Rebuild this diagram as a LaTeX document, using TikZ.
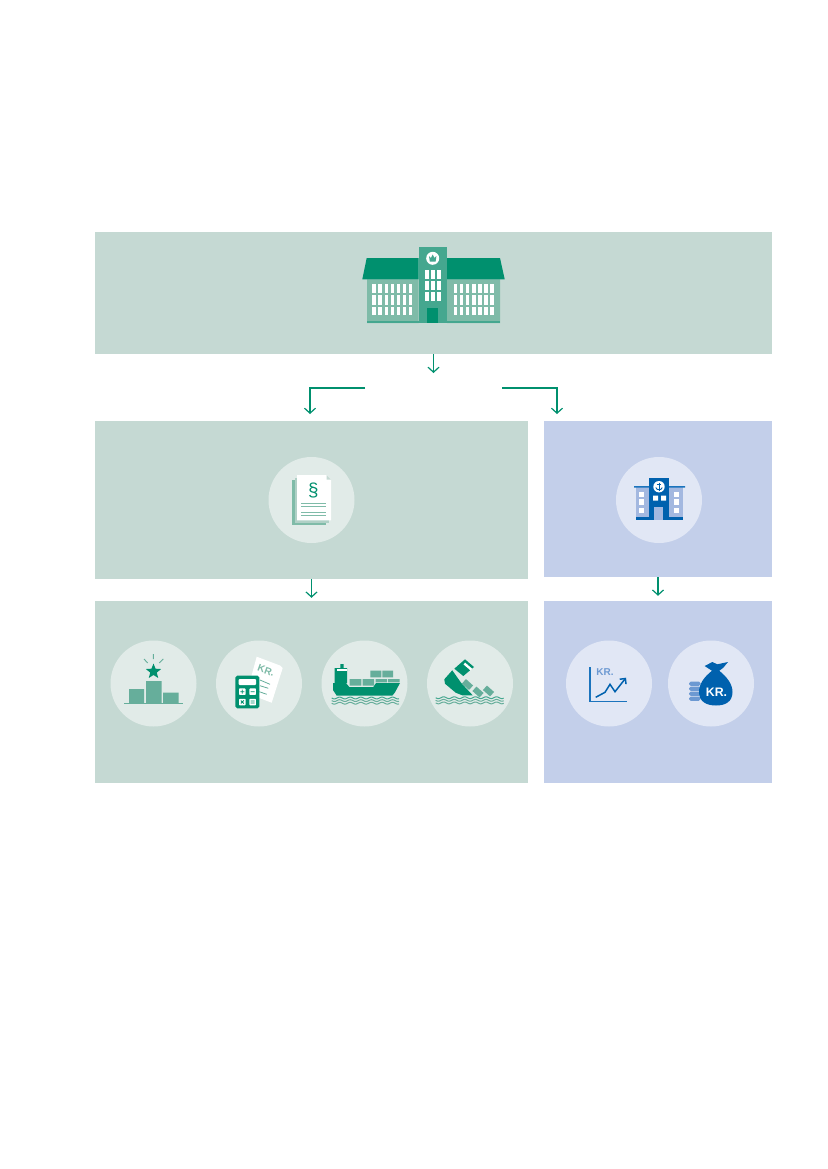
\documentclass[tikz,border=0pt]{standalone}
\usepackage{fontspec}
\setmainfont{Liberation Sans}
\usetikzlibrary{arrows.meta,shapes.geometric}
\definecolor{boxgreen}{HTML}{C5D9D3}
\definecolor{boxblue}{HTML}{C3CFEA}
\definecolor{discgreen}{HTML}{E1EBE8}
\definecolor{discblue}{HTML}{E1E7F5}
\definecolor{deepgreen}{HTML}{00906E}
\definecolor{midgreen}{HTML}{45A78F}
\definecolor{softgreen}{HTML}{66AE9B}
\definecolor{palegreen}{HTML}{7FBBA8}
\definecolor{deepblue}{HTML}{0061AE}
\definecolor{midblue}{HTML}{1B74BD}
\definecolor{softblue}{HTML}{6C99D2}
\definecolor{paleblue}{HTML}{A3B8E0}
\def\px{0.03cm}
\newcommand{\waterlines}[3]{%
  \draw[midgreen,line width=1*\px] plot[domain=#1:#2,samples=70,smooth] (\x,{#3+0.9*sin(34*(\x-#1))});
  \draw[softgreen,line width=1*\px] plot[domain=#1:#2,samples=70,smooth] (\x,{#3+2.6+0.9*sin(34*(\x-#1))});
  \draw[softgreen,line width=1*\px] plot[domain=#1:#2,samples=70,smooth] (\x,{#3+5.2+0.9*sin(34*(\x-#1))});
}
\begin{document}
\begin{tikzpicture}[x=\px,y=-\px,
    panel/.style={
      % The shape:
      rectangle,inner sep=0pt,minimum width=#1*\px,
      % The rest
      fill=boxgreen},
    panelblue/.style={panel=#1,fill=boxblue},
    disc/.style={circle,inner sep=0pt,minimum size=86*\px,fill=discgreen},
    discb/.style={disc,fill=discblue},
    flowarrow/.style={deepgreen,line width=1.2*\px,-{Straight Barb[length=5*\px,width=11*\px]}},
    crate/.style={rectangle,inner sep=0pt,fill=softgreen,minimum width=9.6*\px,minimum height=6*\px},
    keycap/.style={rectangle,rounded corners=0.6pt,inner sep=0pt,fill=white,minimum size=6.5*\px}]
  \useasboundingbox (0,0) rectangle (827,1169);

  % panels
  \node [panel=677,minimum height=122*\px] (parliament) at (433.5,293) {};
  \node [panel=433,minimum height=158*\px] (law) at (311.5,500) {};
  \node [panelblue=228,minimum height=156*\px] (bank) at (658,499) {};
  \node [panel=433,minimum height=182*\px] (duties) at (311.5,692) {};
  \node [panelblue=228,minimum height=182*\px] (funds) at (658,692) {};

  % connectors
  \coordinate (split) at (433.5,373);
  \coordinate (splitleft) at (365,388);
  \coordinate (splitright) at (502,388);
  \coordinate (lawin) at (310,414);
  \coordinate (bankin) at (557,414);
  \draw [flowarrow] (parliament.south) -- (split);
  \draw [flowarrow] (splitleft) -| (lawin);
  \draw [flowarrow] (splitright) -| (bankin);
  \draw [flowarrow,shorten >=3*\px] (law.south) -- (duties.north);
  \draw [flowarrow,shorten >=5*\px] (bank.south) -- (funds.north);

  % parliament building
  \fill [palegreen] (367,279.3) rectangle (418.7,323) (447,279.3) rectangle (500,323);
  \fill [midgreen] (367,320.7) rectangle (500,323);
  \fill [deepgreen] (362.3,279.3) -- (366.7,258) -- (418.7,258) -- (418.7,279.3) -- cycle;
  \fill [deepgreen] (447,258) -- (500,258) -- (504.7,279.3) -- (447,279.3) -- cycle;
  \fill [midgreen] (418.7,246.7) rectangle (447,323);
  \foreach \wx in {372.3,453.7}
    \foreach \i in {0,...,6}
      \foreach \wy/\wh in {284/9.3,295.3/9.4,306.7/8.6}
        \fill [white] ({\wx+6.1*\i},\wy) rectangle +(3.5,\wh);
  \foreach \i in {0,1,2}
    \foreach \wy in {270,281,292}
      \fill [white] ({425+6.05*\i},\wy) rectangle +(3.5,9);
  \fill [deepgreen] (427,307.7) rectangle (438.3,323);
  \fill [white] (432.7,258.3) circle [radius=6.5];
  \fill [midgreen] (429,256) -- (431,258) -- (432.7,254.5) -- (434.4,258) -- (436.4,256) -- (435.6,261.5) -- (429.8,261.5) -- cycle;

  % discs
  \node [disc] (lawdisc) at (311.5,500) {};
  \node [discb] (bankdisc) at (659,500) {};
  \node [disc] (rankdisc) at (153.5,683.5) {};
  \node [disc] (calcdisc) at (259,683.5) {};
  \node [disc] (shipdisc) at (364.5,683.5) {};
  \node [disc] (wreckdisc) at (470,683.5) {};
  \node [discb] (chartdisc) at (609,683.5) {};
  \node [discb] (bagdisc) at (711,683.5) {};

  % law document
  \fill [palegreen] (292,480) rectangle (326,525);
  \fill [boxgreen!70!palegreen] (294.5,477.5) rectangle (329,522.5);
  \fill [white] (297,475) -- (326.5,475) -- (331,479.5) -- (331,520.3) -- (297,520.3) -- cycle;
  \fill [boxgreen] (326.5,475) -- (331,479.5) -- (326.5,479.5) -- cycle;
  \node [text=deepgreen,font=\fontsize{16pt}{16pt}\selectfont,inner sep=0pt] (lawmark) at (313.3,490) {§};
  \foreach \ly in {503.3,506,512.3,515.3}
    \draw [palegreen,line width=0.8*\px] (301,\ly) -- (325.7,\ly);

  % bank building
  \fill [paleblue] (636,487) rectangle (682.7,518);
  \fill [deepblue] (649,477.7) rectangle (669,520);
  \fill [midblue] (634,486) rectangle (649,487.7) (669,486) rectangle (685,487.7);
  \fill [deepblue] (636,517.3) rectangle (683.3,519.5);
  \foreach \wx in {638.7,673.7}
    \foreach \wy in {491.7,499.3,507.7}
      \fill [white] (\wx,\wy) rectangle +(5.3,5.3);
  \fill [white] (653,495.7) rectangle +(5,5) (661,495.7) rectangle +(5,5);
  \fill [paleblue] (654.3,507.3) rectangle (663.3,519.5);
  \fill [white] (659,486.7) circle [radius=5.7];
  \draw [deepblue,line width=0.9*\px] (659,482.5) -- (659,490.5) (656.8,484.5) -- (661.2,484.5);
  \draw [deepblue,line width=0.9*\px] (655.8,487.5) .. controls (656.2,490.5) and (661.8,490.5) .. (662.2,487.5);

  % podium
  \fill [softgreen] (129,689) rectangle (144,703) (146,681) rectangle (161.7,703) (163,692.7) rectangle (178.7,703);
  \draw [softgreen,line width=0.9*\px] (124,703.3) -- (182.7,703.3);
  \node [star,star points=5,star point ratio=2.3,inner sep=0pt,minimum size=16*\px,fill=deepgreen] (rankstar) at (153.5,671.5) {};
  \draw [softgreen,line width=0.9*\px] (153.3,654) -- (153.3,659) (144,659) -- (147.7,663) (163.3,659) -- (159.3,663);

  % calculator and bill
  \fill [white] (256.7,656.7) -- (280,665.5) -- (282.7,668) -- (271.7,702.7) -- (246.7,693.3) -- cycle;
  \node [rotate=-20,text=palegreen,font=\bfseries\fontsize{8.5pt}{8.5pt}\selectfont,inner sep=0pt] (billmark) at (266,670.7) {KR.};
  \draw [softgreen,line width=0.8*\px] (260,680) -- (270,684.3) (260,685.7) -- (268.3,688.3) (259.3,691.7) -- (266.7,694.3);
  \fill [deepgreen,rounded corners=1.5pt] (235.3,675.7) rectangle (259.3,708.3);
  \fill [white,rounded corners=0.8pt] (238.7,679) rectangle (256,685);
  \node [keycap] (keya) at (242.3,691.7) {};
  \node [keycap] (keyb) at (252.7,691.7) {};
  \node [keycap] (keyc) at (242.3,702) {};
  \node [keycap] (keyd) at (252.7,702) {};
  \draw [deepgreen,line width=0.8*\px] (240.3,691.7) -- (244.3,691.7) (242.3,689.7) -- (242.3,693.7) (250.7,691.7) -- (254.7,691.7)
    (240.8,700.5) -- (243.8,703.5) (240.8,703.5) -- (243.8,700.5) (250.7,701) -- (254.7,701) (250.7,703) -- (254.7,703);

  % container ship
  \fill [deepgreen] (333,683) -- (346,683) -- (349.3,687) -- (373.3,687) -- (376,683) -- (400,683) -- (395,692.3) -- (392.3,695.7) -- (336.7,695.7) -- (333,690) -- cycle;
  \fill [deepgreen] (334.7,668) rectangle (347,683) (340.3,664) rectangle (343.7,668);
  \fill [white] (337,668.7) rectangle (347,671.3);
  \fill [softgreen] (349.7,679) rectangle (361.3,685.7) (362.7,679) rectangle (374,685.7);
  \fill [softgreen] (370.3,670.7) rectangle (381.3,677.3) (382.3,670.7) rectangle (393,677.3);
  \fill [softgreen] (375.7,679) rectangle (387,682.3) (388,679) rectangle (399.7,682.3);
  \waterlines{331.7}{399}{698}

  % sinking ship
  \fill [deepgreen] (444.3,679.3) -- (452.3,670.3) -- (461,682.7) -- (472.7,695.3) -- (462.3,695.3) -- (455.7,692.7) -- (445,683.7) -- cycle;
  \fill [deepgreen] (454.3,668.7) -- (465,659.3) -- (474,667) -- (463.3,676) -- cycle;
  \draw [white,line width=2.4*\px] (464.3,663.5) -- (471.5,669.7);
  \node [crate,rotate=-42] (cratea) at (467.5,684.5) {};
  \node [crate,rotate=-42] (crateb) at (478,692) {};
  \node [crate,rotate=-42] (cratec) at (488.5,691) {};
  \waterlines{435.7}{503.7}{697.7}

  % rising chart
  \draw [midblue,line width=1.2*\px] (590,667.3) -- (590,701.7) -- (626.7,701.7);
  \node [text=softblue,font=\bfseries\fontsize{8.5pt}{8.5pt}\selectfont,inner sep=0pt] (chartmark) at (605,672.3) {KR.};
  \draw [deepblue,line width=1.5*\px,-{Straight Barb[length=4*\px,width=8*\px]}] (595.7,697.3) -- (605,692.3) -- (610,684.3) -- (615,691.7) -- (626,677.7);

  % coins and money bag
  \foreach \cy in {681.5,686.5,691.5,696.5}
    \fill [softblue,rounded corners=1.6pt] (689,\cy) rectangle +(11.7,4.4);
  \fill [deepblue] (712.3,670.5) .. controls (704,677) and (699,684) .. (699,692) .. controls (699,702) and (707,705.5) .. (716,705.5) .. controls (725,705.5) and (732.5,702) .. (732.5,692) .. controls (732.5,684) and (727,677) .. (719,670.5) -- cycle;
  \fill [deepblue] (704.7,666) -- (712.3,662) -- (717.3,664.3) -- (728,662) -- (723.3,667.7) -- (719,671) -- (712.3,671) -- cycle;
  \node [text=white,font=\bfseries\fontsize{10.5pt}{10.5pt}\selectfont,inner sep=0pt] (bagmark) at (716.5,692) {KR.};
\end{tikzpicture}
\end{document}
